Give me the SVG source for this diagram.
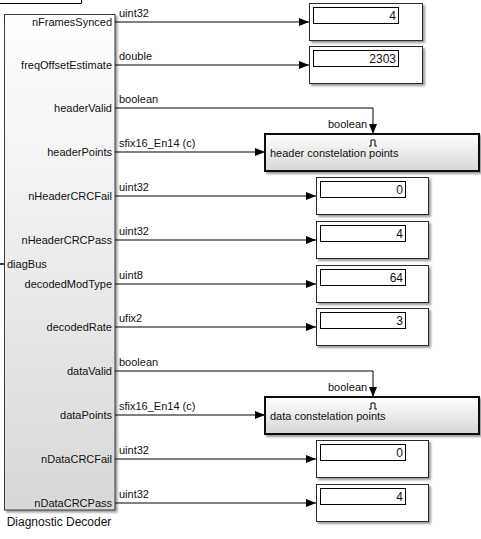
<svg xmlns="http://www.w3.org/2000/svg" width="481" height="539" viewBox="0 0 481 539">
<defs>
<style>
text{font-family:"Liberation Sans",Arial,sans-serif;fill:#111}
.port{font-size:11px;text-anchor:end}
.sig{font-size:11px}
.val{font-size:12px;text-anchor:end}
.disp{fill:#fff;stroke:#2a2a2a;stroke-width:1}
.inner{fill:#fff;stroke:#000;stroke-width:1}
.scope{fill:url(#gScope);stroke:#111;stroke-width:2}
.wire{fill:none;stroke:#000;stroke-width:1}
</style>
<linearGradient id="gBlock" x1="0" y1="0" x2="0" y2="1"><stop offset="0" stop-color="#ffffff"/><stop offset="1" stop-color="#d8d8d8"/></linearGradient>
<linearGradient id="gScope" x1="0" y1="0" x2="0" y2="1"><stop offset="0" stop-color="#ffffff"/><stop offset="1" stop-color="#d6d6d6"/></linearGradient>
<filter id="sh" x="-10%" y="-10%" width="130%" height="130%">
<feGaussianBlur in="SourceAlpha" stdDeviation="1.3"/>
<feOffset dx="2" dy="2"/>
<feComponentTransfer><feFuncA type="linear" slope="0.4"/></feComponentTransfer>
<feMerge><feMergeNode/><feMergeNode in="SourceGraphic"/></feMerge>
</filter>
<marker id="arr" markerWidth="10" markerHeight="8" refX="10" refY="4" orient="auto" markerUnits="userSpaceOnUse"><path d="M0,0 L10,4 L0,8 z" fill="#000"/></marker>
</defs>

<path d="M0,3.5 H81.5 V0" fill="none" stroke="#000" stroke-width="1"/>

<g id="diagnosticDecoder">
<rect x="4.5" y="14.5" width="110.5" height="495.5" fill="url(#gBlock)" stroke="#3a3a3a" stroke-width="1" filter="url(#sh)"/>
<line x1="0" y1="264" x2="4" y2="264" stroke="#000" stroke-width="1.5"/>
<text class="sig" x="7" y="268">diagBus</text>
<text class="port" x="112" y="26">nFramesSynced</text>
<text class="port" x="112" y="69">freqOffsetEstimate</text>
<text class="port" x="112" y="112">headerValid</text>
<text class="port" x="112" y="156">headerPoints</text>
<text class="port" x="112" y="200">nHeaderCRCFail</text>
<text class="port" x="112" y="244">nHeaderCRCPass</text>
<text class="port" x="112" y="288">decodedModType</text>
<text class="port" x="112" y="331">decodedRate</text>
<text class="port" x="112" y="375">dataValid</text>
<text class="port" x="112" y="419">dataPoints</text>
<text class="port" x="112" y="463">nDataCRCFail</text>
<text class="port" x="112" y="507">nDataCRCPass</text>
<text x="59" y="526" font-size="12px" text-anchor="middle">Diagnostic Decoder</text>
</g>

<g id="connectors">
<path class="wire" d="M115,22 H309" marker-end="url(#arr)"/>
<path class="wire" d="M115,65 H309" marker-end="url(#arr)"/>
<path class="wire" d="M115,108 H373 V134" marker-end="url(#arr)"/>
<path class="wire" d="M115,152 H265" marker-end="url(#arr)"/>
<path class="wire" d="M115,196 H316" marker-end="url(#arr)"/>
<path class="wire" d="M115,240 H316" marker-end="url(#arr)"/>
<path class="wire" d="M115,284 H316" marker-end="url(#arr)"/>
<path class="wire" d="M115,327 H316" marker-end="url(#arr)"/>
<path class="wire" d="M115,371 H373 V397" marker-end="url(#arr)"/>
<path class="wire" d="M115,415 H265" marker-end="url(#arr)"/>
<path class="wire" d="M115,459 H316" marker-end="url(#arr)"/>
<path class="wire" d="M115,503 H316" marker-end="url(#arr)"/>
<text class="sig" x="119" y="17">uint32</text>
<text class="sig" x="119" y="60">double</text>
<text class="sig" x="119" y="103">boolean</text>
<text class="sig" x="119" y="147">sfix16_En14 (c)</text>
<text class="sig" x="119" y="191">uint32</text>
<text class="sig" x="119" y="235">uint32</text>
<text class="sig" x="119" y="279">uint8</text>
<text class="sig" x="119" y="322">ufix2</text>
<text class="sig" x="119" y="366">boolean</text>
<text class="sig" x="119" y="410">sfix16_En14 (c)</text>
<text class="sig" x="119" y="454">uint32</text>
<text class="sig" x="119" y="498">uint32</text>
<text class="sig" x="328" y="128">boolean</text>
<text class="sig" x="328" y="391">boolean</text>
</g>

<g id="display1">
<rect class="disp" x="309.5" y="3.5" width="113" height="37" filter="url(#sh)"/>
<rect class="inner" x="313.5" y="7.5" width="85" height="16"/>
<text class="val" x="396" y="20">4</text>
</g>
<g id="display2">
<rect class="disp" x="309.5" y="46.5" width="113" height="37" filter="url(#sh)"/>
<rect class="inner" x="313.5" y="50.5" width="85" height="16"/>
<text class="val" x="396" y="63">2303</text>
</g>

<g id="headerScope">
<rect class="scope" x="265" y="134" width="214" height="37" filter="url(#sh)"/>
<path d="M369,146 H371 V140 H375 V146 H377" fill="none" stroke="#000" stroke-width="1"/>
<text class="sig" x="270" y="157">header constelation points</text>
</g>

<g id="display3">
<rect class="disp" x="316.5" y="177.5" width="112" height="37" filter="url(#sh)"/>
<rect class="inner" x="320.5" y="181.5" width="85" height="16"/>
<text class="val" x="403" y="194">0</text>
</g>
<g id="display4">
<rect class="disp" x="316.5" y="221.5" width="112" height="37" filter="url(#sh)"/>
<rect class="inner" x="320.5" y="225.5" width="85" height="16"/>
<text class="val" x="403" y="238">4</text>
</g>
<g id="display5">
<rect class="disp" x="316.5" y="265.5" width="112" height="37" filter="url(#sh)"/>
<rect class="inner" x="320.5" y="269.5" width="85" height="16"/>
<text class="val" x="403" y="282">64</text>
</g>
<g id="display6">
<rect class="disp" x="316.5" y="308.5" width="112" height="37" filter="url(#sh)"/>
<rect class="inner" x="320.5" y="312.5" width="85" height="16"/>
<text class="val" x="403" y="325">3</text>
</g>

<g id="dataScope">
<rect class="scope" x="265" y="397" width="214" height="37" filter="url(#sh)"/>
<path d="M369,409 H371 V403 H375 V409 H377" fill="none" stroke="#000" stroke-width="1"/>
<text class="sig" x="270" y="420">data constelation points</text>
</g>

<g id="display7">
<rect class="disp" x="316.5" y="440.5" width="112" height="37" filter="url(#sh)"/>
<rect class="inner" x="320.5" y="444.5" width="85" height="16"/>
<text class="val" x="403" y="457">0</text>
</g>
<g id="display8">
<rect class="disp" x="316.5" y="484.5" width="112" height="37" filter="url(#sh)"/>
<rect class="inner" x="320.5" y="488.5" width="85" height="16"/>
<text class="val" x="403" y="501">4</text>
</g>
</svg>
